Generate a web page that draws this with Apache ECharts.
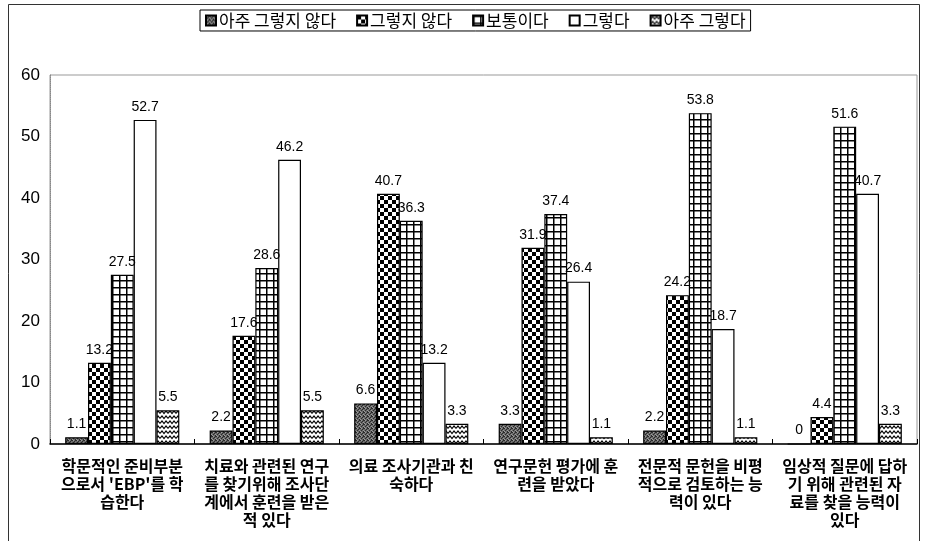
<!DOCTYPE html>
<html>
<head>
<meta charset="utf-8">
<script src="https://cdn.jsdelivr.net/npm/echarts@6/dist/echarts.min.js"></script>
<style>
  html, body { margin: 0; padding: 0; background: #fff; }
  #chart { width: 925px; height: 541px; }
</style>
</head>
<body>
<div id="chart"></div>
<script>
// Survey items (x-axis categories)
const categories = [
  "학문적인 준비부분\n으로서 'EBP'를 학\n습한다",
  "치료와 관련된 연구\n를 찾기위해 조사단\n계에서 훈련을 받은\n적 있다",
  "의료 조사기관과 친\n숙하다",
  "연구문헌 평가에 훈\n련을 받았다",
  "전문적 문헌을 비평\n적으로 검토하는 능\n력이 있다",
  "임상적 질문에 답하\n기 위해 관련된 자\n료를 찾을 능력이\n있다"
];

// Response options (legend)
const seriesNames = ["아주 그렇지 않다", "그렇지 않다", "보통이다", "그렇다", "아주 그렇다"];

// Percentages per response option
const stronglyDisagree = [1.1, 2.2, 6.6, 3.3, 2.2, 0];
const disagree = [13.2, 17.6, 40.7, 31.9, 24.2, 4.4];
const neutral = [27.5, 28.6, 36.3, 37.4, 53.8, 51.6];
const agree = [52.7, 46.2, 13.2, 26.4, 18.7, 40.7];
const stronglyAgree = [5.5, 5.5, 3.3, 1.1, 1.1, 3.3];

// Y-axis ticks
const yMin = 0, yMax = 60, yStep = 10;

// ---- fill patterns drawn on small canvases ----
function makeCanvas(w, h, draw) {
  const c = document.createElement('canvas');
  c.width = w; c.height = h;
  const ctx = c.getContext('2d');
  draw(ctx, w, h);
  return c;
}

// dark stippled grey
const stipple = makeCanvas(4, 4, (ctx) => {
  ctx.fillStyle = '#6a6a6a';
  ctx.fillRect(0, 0, 4, 4);
  ctx.fillStyle = '#2a2a2a';
  [[0,0],[2,1],[1,2],[3,3],[3,0]].forEach(p => ctx.fillRect(p[0], p[1], 1, 1));
  ctx.fillStyle = '#9a9a9a';
  [[1,0],[3,2],[0,3]].forEach(p => ctx.fillRect(p[0], p[1], 1, 1));
});

// checkerboard
const checker = makeCanvas(8, 8, (ctx) => {
  ctx.fillStyle = '#fff';
  ctx.fillRect(0, 0, 8, 8);
  ctx.fillStyle = '#000';
  ctx.fillRect(0, 0, 4, 4);
  ctx.fillRect(4, 4, 4, 4);
});

// square grid
const gridPat = makeCanvas(7, 7, (ctx) => {
  ctx.fillStyle = '#fff';
  ctx.fillRect(0, 0, 7, 7);
  ctx.fillStyle = '#000';
  ctx.fillRect(0, 0, 7, 1.5);
  ctx.fillRect(0, 0, 1.5, 7);
});

// zigzag lines
const zigzag = makeCanvas(8, 5, (ctx) => {
  ctx.fillStyle = '#fff';
  ctx.fillRect(0, 0, 8, 5);
  ctx.strokeStyle = '#000';
  ctx.lineWidth = 1.2;
  ctx.beginPath();
  ctx.moveTo(0, 3.5);
  ctx.lineTo(2, 1);
  ctx.lineTo(4, 3.5);
  ctx.lineTo(6, 1);
  ctx.lineTo(8, 3.5);
  ctx.stroke();
});

const fills = [
  { image: stipple, repeat: 'repeat' },
  { image: checker, repeat: 'repeat' },
  { image: gridPat, repeat: 'repeat' },
  '#ffffff',
  { image: zigzag, repeat: 'repeat' }
];

const valueSets = [stronglyDisagree, disagree, neutral, agree, stronglyAgree];

const chart = echarts.init(document.getElementById('chart'), null, { renderer: 'canvas' });

const series = seriesNames.map((name, i) => ({
  name: name,
  type: 'bar',
  data: valueSets[i],
  barGap: '0%',
  barCategoryGap: '21%',
  itemStyle: { color: fills[i], borderColor: '#000', borderWidth: 1.2 },
  label: {
    show: true,
    position: 'top',
    distance: 6,
    color: '#000',
    fontSize: 14,
    fontFamily: 'Liberation Sans, Arial, sans-serif'
  },
  emphasis: { disabled: true }
}));

chart.setOption({
  animation: false,
  backgroundColor: '#fff',
  graphic: [{
    type: 'rect',
    shape: { x: 8.5, y: 4.5, width: 911, height: 541 },
    style: { fill: 'none', stroke: '#333', lineWidth: 1 },
    silent: true
  }],
  legend: {
    top: 10,
    left: 200,
    data: seriesNames,
    itemWidth: 10,
    itemHeight: 10,
    itemGap: 20,
    padding: [2, 5, 2, 5],
    borderColor: '#000',
    borderWidth: 1,
    icon: 'rect',
    textStyle: {
      fontSize: 17,
      color: '#000',
      fontFamily: 'Noto Sans CJK KR, sans-serif',
      padding: [0, 0, 0, -2]
    }
  },
  grid: {
    left: 50,
    right: 8,
    top: 75,
    bottom: 97,
    show: true,
    borderColor: '#999',
    borderWidth: 1,
    containLabel: false
  },
  xAxis: {
    type: 'category',
    data: categories,
    axisLine: { lineStyle: { color: '#000', width: 1.5 } },
    axisTick: { show: true, inside: true, length: 5, lineStyle: { color: '#000' } },
    axisLabel: {
      interval: 0,
      margin: 13,
      color: '#000',
      fontSize: 16,
      fontWeight: 'bold',
      lineHeight: 18,
      fontFamily: 'Noto Sans CJK KR, sans-serif'
    },
    splitLine: { show: false }
  },
  yAxis: {
    type: 'value',
    min: yMin,
    max: yMax,
    interval: yStep,
    axisLine: { show: true, lineStyle: { color: '#888', type: 'dotted' } },
    axisTick: { show: false },
    axisLabel: {
      margin: 10,
      color: '#000',
      fontSize: 17,
      fontFamily: 'Liberation Sans, Arial, sans-serif'
    },
    splitLine: { show: false }
  },
  series: series
});
</script>
</body>
</html>
